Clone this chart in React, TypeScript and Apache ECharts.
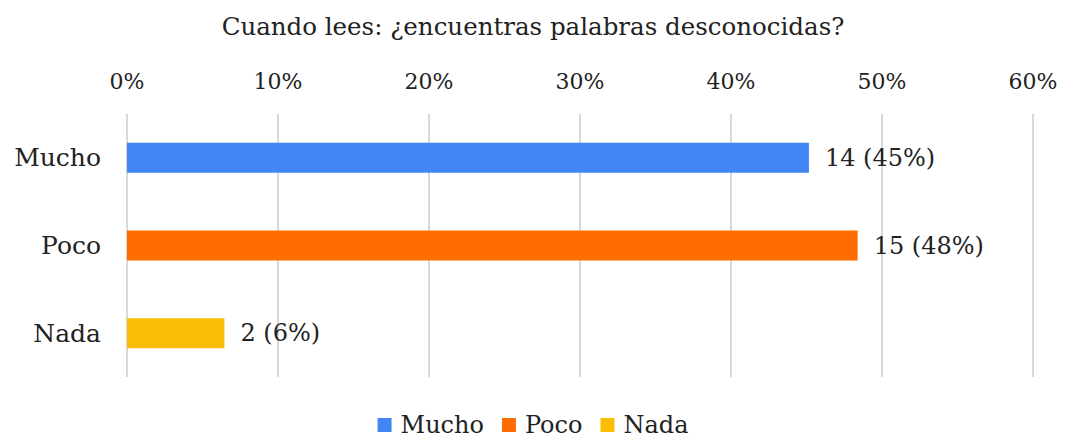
import React, { useEffect, useRef } from "react";
import * as echarts from "echarts";

const title = "Cuando lees: ¿encuentras palabras desconocidas?";
const categories = ["Mucho", "Poco", "Nada"];
const counts = [14, 15, 2];
const total = 31;
const colors = ["#4285F4", "#FF6D01", "#FBBC04"];
const xTicks = [0, 10, 20, 30, 40, 50, 60];

const FONT = "'DejaVu Serif', 'Liberation Serif', serif";

export default function App() {
  const ref = useRef<HTMLDivElement>(null);
  useEffect(() => {
    document.body.style.margin = "0";
    const chart = echarts.init(ref.current!, null, { renderer: "svg" });
    const series = categories.map((name, i) => ({
      name,
      type: "bar",
      stack: "all",
      barWidth: 30,
      itemStyle: { color: colors[i] },
      data: categories.map((_, j) =>
        j === i ? (counts[i] / total) * 100 : "-"
      ),
      label: {
        show: true,
        position: "right",
        distance: 16,
        color: "#222",
        fontFamily: FONT,
        fontSize: 24,
        formatter: () =>
          `${counts[i]} (${Math.round((counts[i] / total) * 100)}%)`,
      },
    }));
    chart.setOption({
      animation: false,
      textStyle: { fontFamily: FONT },
      title: {
        text: title,
        left: "center",
        top: 9,
        textStyle: {
          fontFamily: FONT,
          fontSize: 24.5,
          fontWeight: "normal",
          color: "#222",
        },
      },
      legend: {
        bottom: 5,
        left: "center",
        padding: 0,
        itemWidth: 14,
        itemHeight: 14,
        itemGap: 18,
        icon: "rect",
        textStyle: {
          fontFamily: FONT,
          fontSize: 24,
          lineHeight: 24,
          color: "#222",
          padding: [0, 0, 0, 4],
        },
        data: categories,
      },
      grid: { left: 127, right: 33, top: 114, bottom: 65 },
      xAxis: {
        type: "value",
        position: "top",
        min: 0,
        max: xTicks[xTicks.length - 1],
        interval: 10,
        axisLine: { show: false },
        axisTick: { show: false },
        splitLine: { lineStyle: { color: "#d9d9d9", width: 2 } },
        axisLabel: {
          margin: 22,
          fontFamily: FONT,
          fontSize: 22,
          color: "#222",
          formatter: (v: number) => `${v}%`,
        },
      },
      yAxis: {
        type: "category",
        inverse: true,
        data: categories,
        axisLine: { show: false },
        axisTick: { show: false },
        axisLabel: {
          margin: 26,
          fontFamily: FONT,
          fontSize: 25,
          color: "#222",
        },
      },
      series,
    });
    return () => chart.dispose();
  }, []);
  return (
    <div
      ref={ref}
      style={{ position: "absolute", left: 0, top: 0, width: 1066, height: 442 }}
    />
  );
}
